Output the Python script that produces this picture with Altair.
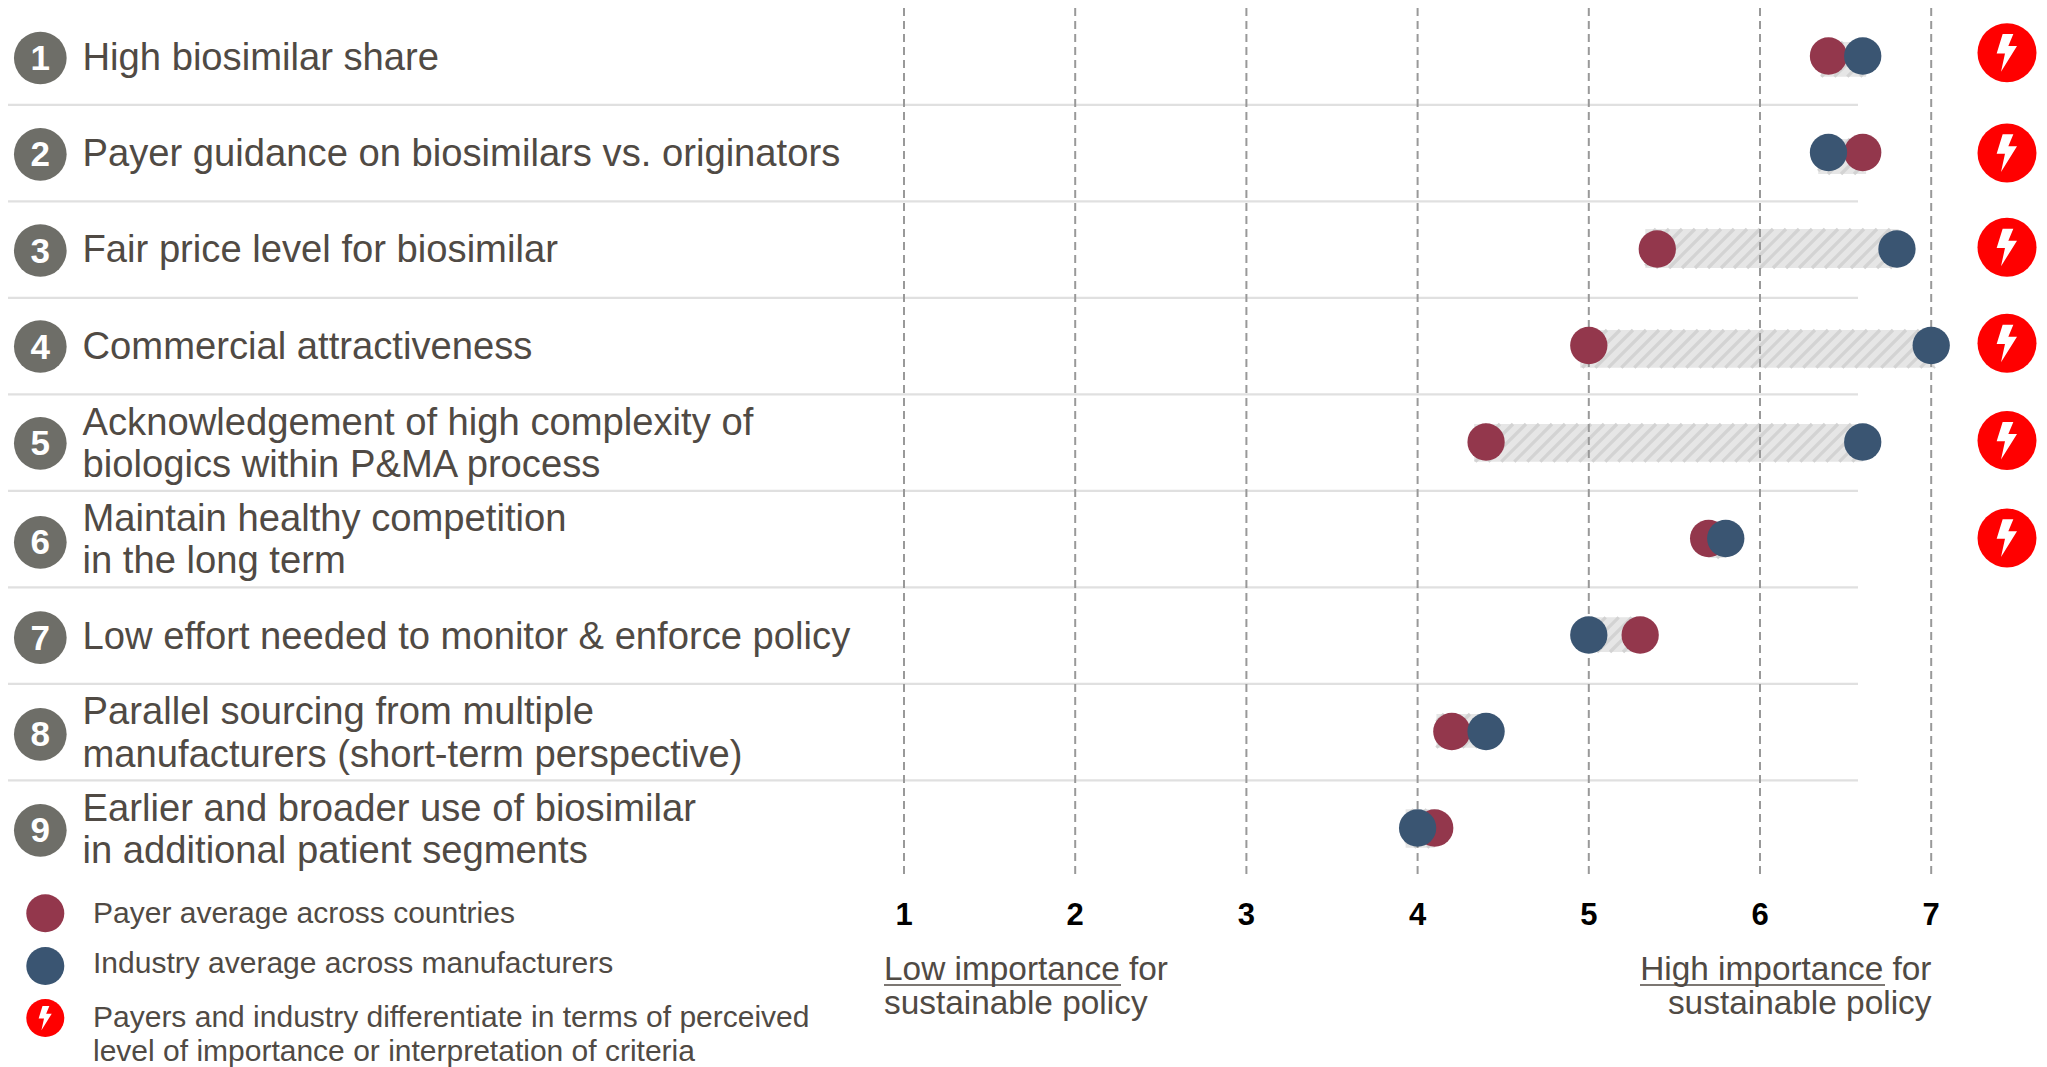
import altair as alt
import numpy as np
import pandas as pd

rows = [1, 2, 3, 4, 5, 6, 7, 8, 9]
labels = [
    ["High biosimilar share"],
    ["Payer guidance on biosimilars vs. originators"],
    ["Fair price level for biosimilar"],
    ["Commercial attractiveness"],
    ["Acknowledgement of high complexity of", "biologics within P&MA process"],
    ["Maintain healthy competition", "in the long term"],
    ["Low effort needed to monitor & enforce policy"],
    ["Parallel sourcing from multiple", "manufacturers (short-term perspective)"],
    ["Earlier and broader use of biosimilar", "in additional patient segments"],
]
payer = [6.4, 6.6, 5.4, 5.0, 4.4, 5.7, 5.3, 4.2, 4.1]
industry = [6.6, 6.4, 6.8, 7.0, 6.6, 5.8, 5.0, 4.4, 4.0]
bar_lo = [6.355, 6.34, 5.33, 4.95, 4.33, 5.7, 5.0, 4.11, 3.93]
bar_hi = [6.62, 6.62, 6.81, 7.02, 6.6, 5.8, 5.3, 4.4, 4.1]
flagged = [1, 2, 3, 4, 5, 6]
ticks = [1, 2, 3, 4, 5, 6, 7]

FONT = "Liberation Sans"
INK = "#504a44"
RED = "#93374c"
BLUE = "#3a5572"
FLASH = "#ff0000"
BADGE = "#6e6e68"
BOLT = "M-.147 -.633L.215 -.633L.045 -.226L.339 -.226L-.203 .644L-.068 .023L-.35 .023Z"

W, H = 2031, 1059
PX_X, PX_Y = 171.2, 96.5
X0, Y0 = 904.0, 56.0  # page pixel of value 1 and of row 1
dom_x = [1 + (8 - X0) / PX_X, 1 + (8 + W - X0) / PX_X]
dom_y = [1 + (8 + H - Y0) / PX_Y, 1 + (8 - Y0) / PX_Y]
sx = alt.Scale(domain=dom_x, nice=False, zero=False)
sy = alt.Scale(domain=dom_y, nice=False, zero=False)


def X(f):
    return alt.X(f, type="quantitative", scale=sx, axis=None)


def Y(f):
    return alt.Y(f, type="quantitative", scale=sy, axis=None)


def txt(s, x, y, size, color=INK, weight="normal", align="left"):
    return (
        alt.Chart(pd.DataFrame({"t": [s]}))
        .mark_text(font=FONT, fontSize=size, color=color, fontWeight=weight, align=align, baseline="alphabetic")
        .encode(x=alt.value(x - 8), y=alt.value(y - 8), text="t:N")
    )


def hline(x0, x1, y, color, width):
    return (
        alt.Chart(pd.DataFrame({"t": [0]}))
        .mark_rule(color=color, strokeWidth=width)
        .encode(x=alt.value(x0 - 8), x2=alt.value(x1 - 8), y=alt.value(y - 8))
    )


def dot(x, y, size, color):
    return (
        alt.Chart(pd.DataFrame({"t": [0]}))
        .mark_point(shape="circle", filled=True, size=size, color=color, opacity=1)
        .encode(x=alt.value(x - 8), y=alt.value(y - 8))
    )


layers = []

# hatched bands between the two averages
bar_top_px = [42, 139, 229, 330, 424, 525, 617.3, 714, 809.3]
bar_bot_px = [76.7, 174, 268, 367.7, 461.7, 558, 652, 747.7, 847.7]
bars = pd.DataFrame({
    "lo": bar_lo, "hi": bar_hi,
    "top": [1 + (p - Y0) / PX_Y for p in bar_top_px],
    "bot": [1 + (p - Y0) / PX_Y for p in bar_bot_px],
})
layers.append(alt.Chart(bars).mark_rect(color="#e6e6e6").encode(x=X("lo"), x2="hi", y=Y("top"), y2="bot"))

stripes = []
STEP = 13.0
for i, b in bars.iterrows():
    x0 = X0 + (b.lo - 1) * PX_X
    x1 = X0 + (b.hi - 1) * PX_X
    y0, y1 = bar_top_px[i], bar_bot_px[i]
    c = np.ceil((x0 + y0) / STEP) * STEP
    while c < x1 + y1:
        # the line x + y = c, cut to the band
        ax = max(x0, c - y1)
        bx = min(x1, c - y0)
        if bx > ax:
            stripes.append({
                "s": len(stripes),
                "xa": 1 + (ax - X0) / PX_X, "xb": 1 + (bx - X0) / PX_X,
                "ya": 1 + (c - ax - Y0) / PX_Y, "yb": 1 + (c - bx - Y0) / PX_Y,
            })
        c += STEP
layers.append(
    alt.Chart(pd.DataFrame(stripes))
    .mark_rule(color="#d3d3d3", strokeWidth=3.2)
    .encode(x=X("xa"), x2="xb", y=Y("ya"), y2="yb")
)

# row separators
seps = pd.DataFrame({"r": [r + 0.507 for r in rows[:-1]]})
layers.append(
    alt.Chart(seps).mark_rule(color="#e0e0e0", strokeWidth=2.2).encode(x=alt.value(6 - 8), x2=alt.value(1858 - 8), y=Y("r"))
)

# grid
grid = pd.DataFrame({"v": ticks, "a": 1 + (8 - Y0) / PX_Y, "b": 1 + (877 - Y0) / PX_Y})
layers.append(
    alt.Chart(grid).mark_rule(color="#999999", strokeWidth=2, strokeDash=[8, 5]).encode(x=X("v"), y=Y("a"), y2="b")
)
layers.append(
    alt.Chart(grid).mark_text(font=FONT, fontSize=31, fontWeight="bold", color="#000000", baseline="alphabetic").encode(
        x=X("v"), y=alt.value(925 - 8), text="v:N"
    )
)

# dots
df = pd.DataFrame({"r": rows, "payer": payer, "industry": industry})
layers.append(alt.Chart(df).mark_point(shape="circle", filled=True, size=1391, color=RED, opacity=1).encode(x=X("payer"), y=Y("r")))
layers.append(alt.Chart(df).mark_point(shape="circle", filled=True, size=1391, color=BLUE, opacity=1).encode(x=X("industry"), y=Y("r")))

# number badges
badge_nudge = [2, 1.8, 1.5, 1, 1.3, 3.8, 2.7, 2.8, 2.3]
bd = pd.DataFrame({"r": [r + n / PX_Y for r, n in zip(rows, badge_nudge)], "n": rows})
layers.append(
    alt.Chart(bd).mark_point(shape="circle", filled=True, size=2777, color=BADGE, opacity=1).encode(x=alt.value(40.3 - 8), y=Y("r"))
)
layers.append(
    alt.Chart(bd).mark_text(font=FONT, fontSize=35, fontWeight="bold", color="#ffffff", baseline="middle", dy=1).encode(
        x=alt.value(40.3 - 8), y=Y("r"), text="n:N"
    )
)

# lightning flags
flag_nudge = [-3.3, 0.5, -1.7, -2.2, -1.4, -0.5]
fl = pd.DataFrame({"r": [r + n / PX_Y for r, n in zip(flagged, flag_nudge)]})
layers.append(
    alt.Chart(fl).mark_point(shape="circle", filled=True, size=3481, color=FLASH, opacity=1).encode(x=alt.value(2007 - 8), y=Y("r"))
)
layers.append(
    alt.Chart(fl).mark_point(shape=BOLT, filled=True, size=3481, color="#ffffff", opacity=1).encode(x=alt.value(2007 - 8), y=Y("r"))
)

# row labels
LABEL_SIZE = 38.2
base_px = [70, 166, 262, 358.5, None, None, 648.5, None, None]
two_line_px = {5: (434.7, 477.3), 6: (530.7, 573.3), 8: (724, 766.7), 9: (821, 863.3)}
for r, lines in zip(rows, labels):
    ys = two_line_px.get(r, (base_px[r - 1],))
    for line, y in zip(lines, ys):
        layers.append(txt(line, 82.5, y, LABEL_SIZE))

# legend
layers.append(dot(45.3, 913.3, 1444, RED))
layers.append(dot(45.3, 966, 1444, BLUE))
layers.append(dot(45.3, 1018, 1444, FLASH))
layers.append(
    alt.Chart(pd.DataFrame({"t": [0]}))
    .mark_point(shape=BOLT, filled=True, size=1444, color="#ffffff", opacity=1)
    .encode(x=alt.value(45.3 - 8), y=alt.value(1018 - 8))
)
LEG = 30
layers.append(txt("Payer average across countries", 93, 922.7, LEG))
layers.append(txt("Industry average across manufacturers", 93, 973.3, LEG))
layers.append(txt("Payers and industry differentiate in terms of perceived", 93, 1026.7, LEG))
layers.append(txt("level of importance or interpretation of criteria", 93, 1061, LEG))

# scale end captions
CAP = 33.4
layers.append(txt("Low importance for", 884, 980, CAP))
layers.append(txt("sustainable policy", 884, 1014, CAP))
layers.append(hline(884, 1121, 985, INK, 1.6))
layers.append(txt("High importance for", 1931.5, 980, CAP, align="right"))
layers.append(txt("sustainable policy", 1931.5, 1014, CAP, align="right"))
layers.append(hline(1640, 1885, 985, INK, 1.6))

chart = (
    alt.layer(*layers)
    .properties(width=W, height=H, padding=0, autosize=alt.AutoSizeParams(type="none"), background="#ffffff")
    .configure_view(stroke=None)
)
chart.save("out.html", embed_options={"renderer": "svg", "actions": False})
